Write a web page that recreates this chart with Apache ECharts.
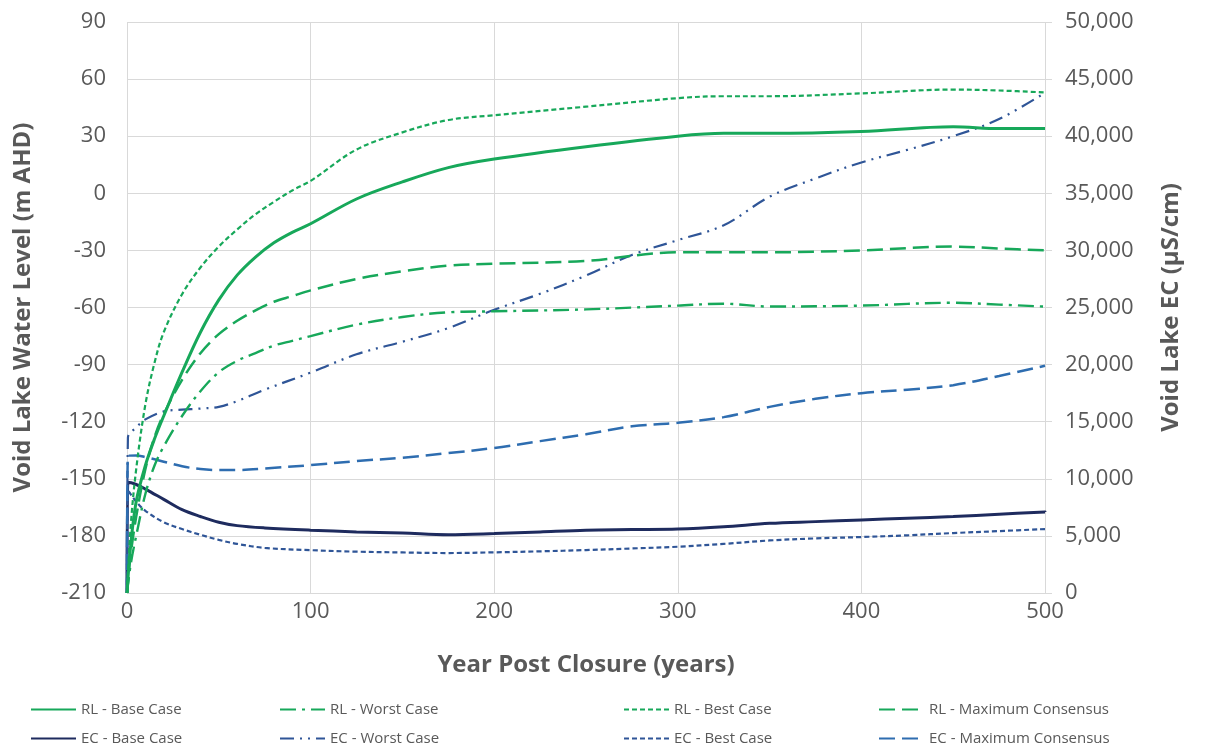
<!DOCTYPE html>
<html>
<head>
<meta charset="utf-8">
<script src="https://cdn.jsdelivr.net/npm/echarts@6/dist/echarts.min.js"></script>
<style>
  html, body { margin: 0; padding: 0; background: #ffffff; }
  #chart { width: 1210px; height: 749px; }
</style>
</head>
<body>
<div id="chart"></div>
<script>
// Void lake water level (m AHD) sampled by year post closure
const rlYears = [0, 2, 5, 10, 15, 20, 30, 40, 50, 60, 70, 80, 90, 100, 125, 150, 175, 200, 250, 300, 325, 350, 400, 450, 475, 500];
const rlBase  = [-210, -185, -162, -143, -129, -117, -94, -73, -56, -43, -33.5, -26, -20.5, -16, -3, 6, 13.5, 18, 24.5, 30, 31.5, 31.5, 32.5, 35, 34, 34];
const rlWorst = [-210, -195, -180, -158, -143, -133, -117, -104, -94, -88, -84, -80, -77.5, -75, -69, -65, -62.5, -62, -61, -59, -58, -59.5, -59, -57.5, -58.5, -59.5];
const rlBest  = [-210, -175, -145, -111, -89, -73, -53, -39, -28, -19, -11, -4.5, 1.5, 6.5, 23, 32, 38.5, 41, 45.5, 50, 51, 51, 52.5, 54.5, 54, 53];
const rlMaxC  = [-210, -190, -170, -145, -128, -116, -98, -84, -74, -67, -61.5, -57, -54, -51, -45, -41, -38, -37, -35.5, -31, -31, -31, -30, -28, -29, -30];

// Void lake EC (µS/cm) sampled by year post closure
const ecYears = [0, 0.5, 5, 10, 20, 30, 40, 50, 60, 75, 100, 125, 150, 175, 200, 225, 250, 275, 300, 325, 350, 375, 400, 425, 450, 475, 500];
const ecBase  = [0, 9700, 9500, 9100, 8200, 7300, 6700, 6200, 5900, 5700, 5500, 5350, 5250, 5100, 5200, 5350, 5500, 5550, 5600, 5800, 6100, 6250, 6400, 6550, 6700, 6900, 7100];
const ecWorst = [0, 13600, 14500, 15200, 15900, 16050, 16150, 16300, 16800, 17800, 19300, 20900, 22000, 23200, 24800, 26200, 27800, 29600, 30900, 32200, 34700, 36300, 37700, 38800, 40000, 41500, 43800];
const ecBest  = [0, 9000, 8000, 7200, 6200, 5600, 5100, 4650, 4300, 3950, 3750, 3620, 3550, 3500, 3560, 3650, 3760, 3900, 4050, 4300, 4600, 4780, 4900, 5050, 5250, 5420, 5600];
const ecMaxC  = [0, 12000, 12050, 11900, 11500, 11100, 10850, 10770, 10770, 10900, 11200, 11550, 11850, 12250, 12700, 13300, 13900, 14600, 14900, 15400, 16300, 17000, 17500, 17800, 18200, 19000, 19900];

// Axis ranges and ticks
const xTicks = { min: 0, max: 500, step: 100 };
const leftTicks = { min: -210, max: 90, step: 30 };
const rightTicks = { min: 0, max: 50000, step: 5000 };

const GREEN = '#17A85A';
const NAVY = '#1E2B5E';
const BLUE = '#2E6DB0';
const BLUE_D = '#2F5597';
const TXT = '#595959';
const FONT = '"Open Sans", "Liberation Sans", sans-serif';

const pairs = (xs, ys) => xs.map((x, i) => [x, ys[i]]);

function lineSeries(name, xs, ys, yAxisIndex, color, width, dash, z) {
  return {
    name, type: 'line', yAxisIndex, data: pairs(xs, ys),
    showSymbol: false, symbol: 'none', smooth: 0.35, z,
    lineStyle: { color, width, type: dash },
    itemStyle: { color },
    emphasis: { disabled: true }
  };
}

const series = [
  lineSeries('EC - Base Case', ecYears, ecBase, 1, NAVY, 3, 'solid', 3),
  lineSeries('EC - Worst Case', ecYears, ecWorst, 1, BLUE_D, 2.2, [14, 6, 2, 6, 2, 6], 3),
  lineSeries('EC - Best Case', ecYears, ecBest, 1, BLUE_D, 2.2, [5, 3], 3),
  lineSeries('EC - Maximum Consensus', ecYears, ecMaxC, 1, BLUE, 2.5, [16, 7], 3),
  lineSeries('RL - Base Case', rlYears, rlBase, 0, GREEN, 3, 'solid', 4),
  lineSeries('RL - Worst Case', rlYears, rlWorst, 0, GREEN, 2.4, [16, 6, 3, 6], 4),
  lineSeries('RL - Best Case', rlYears, rlBest, 0, GREEN, 2.2, [5, 3], 4),
  lineSeries('RL - Maximum Consensus', rlYears, rlMaxC, 0, GREEN, 2.5, [16, 7], 4)
];

// legend columns, two rows each
const legendCols = [
  { left: 30, items: ['RL - Base Case', 'EC - Base Case'] },
  { left: 279, items: ['RL - Worst Case', 'EC - Worst Case'] },
  { left: 623, items: ['RL - Best Case', 'EC - Best Case'] },
  { left: 878, items: ['RL - Maximum Consensus', 'EC - Maximum Consensus'] }
];

const legends = legendCols.map(c => ({
  data: c.items, left: c.left, top: 702, orient: 'vertical', padding: 0,
  itemWidth: 45, itemHeight: 14, itemGap: 14, selectedMode: false,
  itemStyle: { color: 'rgba(0,0,0,0)', borderColor: 'rgba(0,0,0,0)', borderWidth: 0, opacity: 0 },
  textStyle: { color: TXT, fontSize: 15, fontFamily: FONT }
}));

const chart = echarts.init(document.getElementById('chart'), null, { renderer: 'canvas' });
chart.setOption({
  animation: false,
  backgroundColor: '#ffffff',
  grid: { left: 127, right: 165, top: 22, bottom: 156, containLabel: false },
  legend: legends,
  xAxis: {
    type: 'value', min: xTicks.min, max: xTicks.max, interval: xTicks.step,
    name: 'Year Post Closure (years)', nameLocation: 'middle', nameGap: 60,
    nameTextStyle: { color: TXT, fontSize: 24, fontWeight: 'bold', fontFamily: FONT },
    axisLine: { show: false }, axisTick: { show: false },
    axisLabel: { color: TXT, fontSize: 22, fontFamily: FONT, margin: 8 },
    splitLine: { show: true, lineStyle: { color: '#D9D9D9', width: 1 } }
  },
  yAxis: [
    {
      type: 'value', position: 'left', min: leftTicks.min, max: leftTicks.max, interval: leftTicks.step,
      name: 'Void Lake Water Level (m AHD)', nameLocation: 'middle', nameGap: 92, nameRotate: 90,
      nameTextStyle: { color: TXT, fontSize: 24, fontWeight: 'bold', fontFamily: FONT },
      axisLine: { show: false }, axisTick: { show: false },
      axisLabel: { color: TXT, fontSize: 22, fontFamily: FONT, margin: 21 },
      splitLine: { show: true, lineStyle: { color: '#D9D9D9', width: 1 } }
    },
    {
      type: 'value', position: 'right', min: rightTicks.min, max: rightTicks.max, interval: rightTicks.step,
      name: 'Void Lake EC (µS/cm)', nameLocation: 'middle', nameGap: 114, nameRotate: 90,
      nameTextStyle: { color: TXT, fontSize: 24, fontWeight: 'bold', fontFamily: FONT },
      axisLine: { show: false },
      axisTick: { show: true, inside: false, length: 7, lineStyle: { color: '#D9D9D9' } },
      axisLabel: {
        color: TXT, fontSize: 22, fontFamily: FONT, margin: 20,
        formatter: v => v.toLocaleString('en-US')
      },
      splitLine: { show: false }
    }
  ],
  series
});
</script>
</body>
</html>
